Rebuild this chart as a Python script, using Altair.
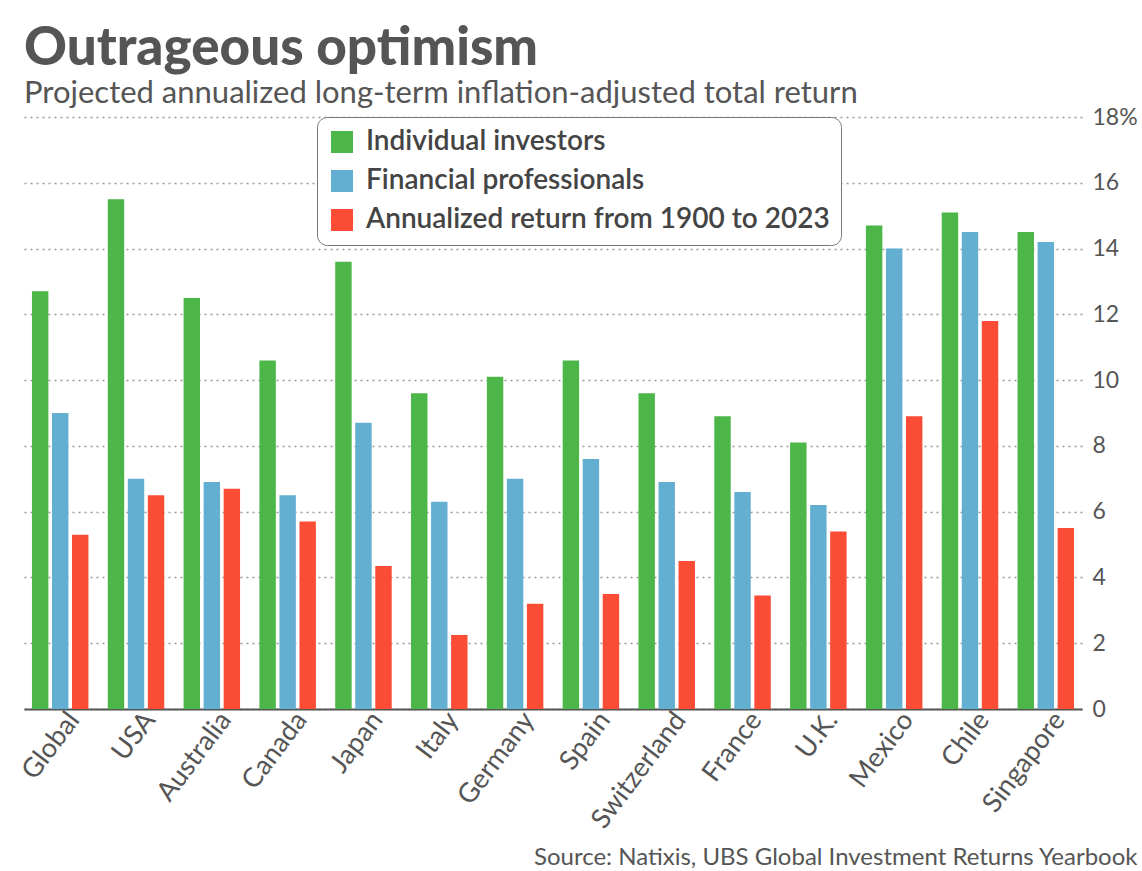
import altair as alt
import pandas as pd

countries = ["Global", "USA", "Australia", "Canada", "Japan", "Italy", "Germany",
             "Spain", "Switzerland", "France", "U.K.", "Mexico", "Chile", "Singapore"]
individual_investors = [12.7, 15.5, 12.5, 10.6, 13.6, 9.6, 10.1, 10.6, 9.6, 8.9, 8.1, 14.7, 15.1, 14.5]
financial_professionals = [9.0, 7.0, 6.9, 6.5, 8.7, 6.3, 7.0, 7.6, 6.9, 6.6, 6.2, 14.0, 14.5, 14.2]
annualized_1900_2023 = [5.3, 6.5, 6.7, 5.7, 4.35, 2.25, 3.2, 3.5, 4.5, 3.45, 5.4, 8.9, 11.8, 5.5]
series_names = ["Individual investors", "Financial professionals", "Annualized return from 1900 to 2023"]
series_colors = ["#4CB648", "#62AFD1", "#FB4D35"]
y_ticks = [0, 2, 4, 6, 8, 10, 12, 14, 16, 18]

rows = []
for i, c in enumerate(countries):
    for s, vals in zip(series_names, [individual_investors, financial_professionals, annualized_1900_2023]):
        rows.append({"country": c, "series": s, "value": vals[i]})
df = pd.DataFrame(rows)

W, H = 1058, 592
FONT = "Lato"
GREY = "#555555"

label_expr = "datum.value == 18 ? '18%' : (datum.value < 10 ? '\u2007' + datum.label : datum.label)"

chart = alt.Chart(df).mark_bar().encode(
    x=alt.X(
        "country:N", sort=countries,
        scale=alt.Scale(paddingInner=0.255, paddingOuter=0.105),
        axis=alt.Axis(
            labelAngle=307, labelFontSize=27, labelColor=GREY, labelFont=FONT,
            ticks=False, domainColor=GREY, domainWidth=2, labelPadding=6, labelOffset=14,
            title="Source: Natixis, UBS Global Investment Returns Yearbook",
            titleX=W + 55, titleY=155, titleAlign="right", titleBaseline="alphabetic",
            titleFontSize=24, titleFontWeight="normal", titleColor=GREY, titleFont=FONT,
            titleAngle=0, grid=False,
        ),
    ),
    xOffset=alt.XOffset("series:N", sort=series_names,
                        scale=alt.Scale(paddingInner=0.18, paddingOuter=0)),
    y=alt.Y(
        "value:Q", scale=alt.Scale(domain=[0, 18], nice=False),
        axis=alt.Axis(
            orient="right", values=y_ticks, labelExpr=label_expr, domain=False, ticks=False,
            labelAlign="left", labelPadding=10, labelFontSize=23, labelColor=GREY, labelFont=FONT,
            gridDash=[2, 4], gridColor="#999999", gridWidth=1.5, title=None,
        ),
    ),
    color=alt.Color(
        "series:N", sort=series_names,
        scale=alt.Scale(domain=series_names, range=series_colors),
        legend=alt.Legend(
            orient="none", legendX=293, legendY=0, title=None, symbolType="square",
            symbolSize=484, labelFontSize=28, labelFont=FONT, labelFontWeight=600,
            labelColor="#444444", labelLimit=800, rowPadding=11, labelOffset=10,
            padding=11, fillColor="white", strokeColor="#777777", cornerRadius=10,
            symbolStrokeWidth=0, symbolOpacity=1,
        ),
    ),
).properties(
    width=W, height=H,
    padding={"left": 16, "top": 23, "right": 0, "bottom": 0},
    title=alt.TitleParams(
        text="Outrageous optimism",
        subtitle="Projected annualized long-term inflation-adjusted total return",
        anchor="start", fontSize=53, font=FONT, fontWeight=900, color=GREY,
        subtitleFont=FONT, subtitleFontSize=31, subtitleColor=GREY,
        subtitlePadding=3, offset=-3, frame="group",
    ),
).configure_view(stroke=None)

chart.save("out.html", embed_options={"renderer": "svg", "actions": False})
